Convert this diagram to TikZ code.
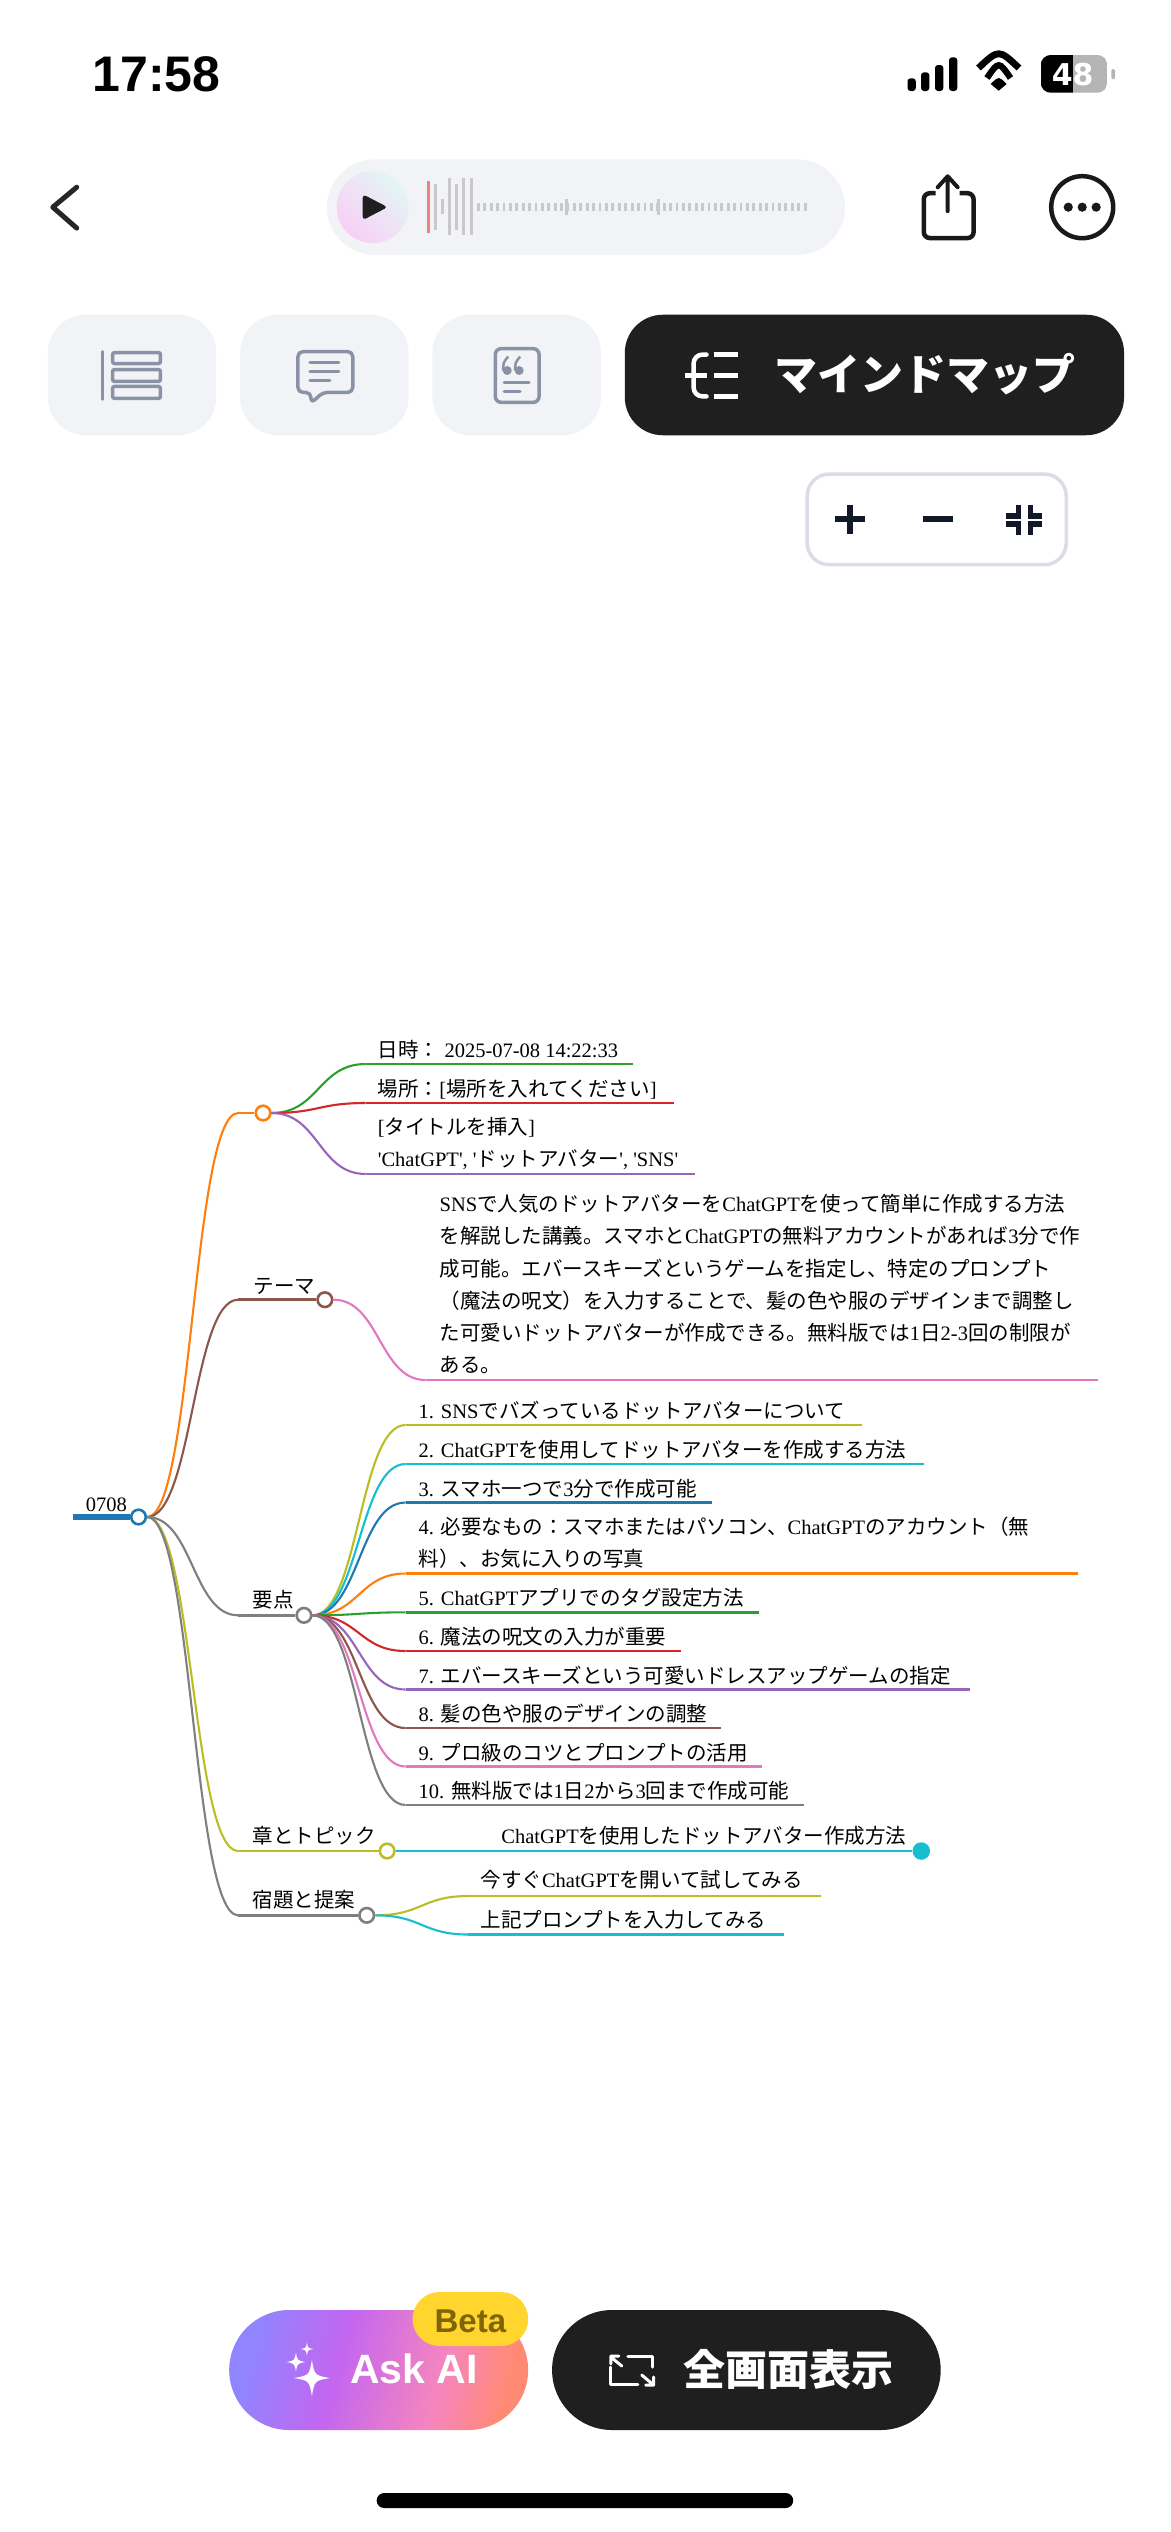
\documentclass[tikz,border=0pt]{standalone}
\usepackage{fontspec}
\setmainfont{Liberation Serif}
\newfontfamily\cjk{Noto Sans CJK JP}
\newfontfamily\uisans{Liberation Sans}
\newfontfamily\battfont{DejaVu Sans}
\newfontfamily\plainserif{Liberation Serif}
\usetikzlibrary{calc}
\newcommand\J[1]{{\cjk #1}}
\definecolor{cOlive}{HTML}{BCBD22}
\definecolor{cTeal}{HTML}{17BECF}
\definecolor{cBlue}{HTML}{1F77B4}
\definecolor{cOrange}{HTML}{FF7F0E}
\definecolor{cGreen}{HTML}{2CA02C}
\definecolor{cRed}{HTML}{D62728}
\definecolor{cPurple}{HTML}{9467BD}
\definecolor{cBrown}{HTML}{8C564B}
\definecolor{cPink}{HTML}{E377C2}
\definecolor{cGray}{HTML}{7F7F7F}
\definecolor{pillbg}{HTML}{F2F3F7}
\definecolor{iconc}{HTML}{8A93A6}
\definecolor{darkbtn}{HTML}{1F1F1F}
\definecolor{wavec}{HTML}{C9C9C9}
\definecolor{navy}{HTML}{111827}
\definecolor{zoomb}{HTML}{D8DDE6}
\definecolor{gA}{HTML}{9085FF}
\definecolor{gB}{HTML}{C366F0}
\definecolor{gC}{HTML}{F685BE}
\definecolor{gD}{HTML}{FF8A73}
\definecolor{pA}{HTML}{E3F6F4}
\definecolor{pB}{HTML}{DFE0FB}
\definecolor{pC}{HTML}{F9CFF7}
\definecolor{redbar}{HTML}{F08080}
\definecolor{betabg}{HTML}{FFD52E}
\definecolor{betatx}{HTML}{7F6508}
\definecolor{battgray}{HTML}{B5B5B5}
\pgfdeclarehorizontalshading{askai}{100bp}{color(0bp)=(gA);color(25bp)=(gA);color(42bp)=(gB);color(62bp)=(gC);color(75bp)=(gD);color(100bp)=(gD)}
\tikzset{
  mmtext/.style={anchor=west,inner sep=0pt,font=\plainserif\fontsize{20.5}{24}\selectfont,text height=16pt,text depth=5pt},
  mmdot/.style={circle,inner sep=0pt,minimum size=14.6pt,fill=white,line width=2.6pt},
  mmcurve/.style={line width=2.1pt},
  mmbar/.style={line width=2.4pt},
  uitxt/.style={inner sep=0pt},
  iconline/.style={draw=iconc,line width=3.5pt,line cap=round,line join=round},
  fs/.style={draw=white,line width=3pt,line cap=round,line join=round},
  spark/.style={fill=white},
}
\newcommand\mmleaf[6]{%
  \coordinate (#2s) at (#3,#4);
  \coordinate (#2e) at (#5,#4);
  \draw[mmcurve,#6] let \p1=(#1.east),\p2=(#2s),\n1={(\x1+\x2)/2} in (\p1) .. controls (\n1,\y1) and (\n1,\y2) .. (\p2);
  \draw[mmbar,#6] (#2s) -- (#2e);
}
\newcommand\mmmain[3]{%
  \coordinate (#2s) at (239,0 |- #2);
  \draw[mmcurve,#3] let \p1=(#1.east),\p2=(#2s),\n1={(\x1+\x2)/2} in (\p1) .. controls (\n1,\y1) and (\n1,\y2) .. (\p2);
  \draw[mmbar,line width=2.8pt,#3] (#2s) -- (#2.west);
}
\newcommand\sparkshape[3]{\fill[spark,shift={(#1,#2)},scale=#3] (0,-1) .. controls (.15,-.15) .. (1,0) .. controls (.15,.15) .. (0,1) .. controls (-.15,.15) .. (-1,0) .. controls (-.15,-.15) .. cycle;}
\begin{document}
\begin{tikzpicture}[x=0.9965pt,y=-1pt]
\fill[white] (0,0) rectangle (1174.11,2532);
\useasboundingbox (0,0) rectangle (1174.11,2532);

% status bar
\node[uitxt,anchor=center,font=\uisans\bfseries\fontsize{50}{50}\selectfont] (time) at (157,74) {17:58};
\begin{scope}[x=1pt]
\foreach \x/\t in {907.5/78.3,921/72.3,935/65,949/57.3}{\fill[black,rounded corners=3pt] (\x,\t) rectangle (\x+8.3,91);}
\draw[black,line width=6.8pt] (978.5,68) .. controls (998.7,49) .. (1019,68);
\draw[black,line width=6.3pt] (987,78) .. controls (998.7,61) .. (1010.5,78);
\fill[black] (998.7,90.7) -- (990.7,84) .. controls (998.7,76) .. (1006.7,84) -- cycle;
\begin{scope}
\clip[rounded corners=10pt] (1040.7,55) rectangle (1107.3,92.7);
\fill[black] (1040.7,55) rectangle (1072.7,92.7);
\fill[battgray] (1072.7,55) rectangle (1107.3,92.7);
\end{scope}
\fill[battgray,rounded corners=2pt] (1111.3,69) rectangle (1115,79.3);
\node[uitxt,text=white,font=\battfont\bfseries\fontsize{30}{30}\selectfont] (batt) at (1072.7,74.2) {48};
\end{scope}

\begin{scope}[y=-0.996pt]
% top bar
\draw[black!85,line width=5pt,line cap=round,line join=round] (77,188) -- (53,208) -- (77,229);
\fill[pillbg,rounded corners=48pt] (328,160) rectangle (848,256);
\shade[left color=pA,middle color=pB,right color=pC,shading angle=-45] (374,208) circle [radius=36pt];
\fill[darkbtn,rounded corners=3.5pt] (364,195) -- (389,208) -- (364,221) -- cycle;
\fill[redbar] (428.5,182) rectangle (431.5,234);
\foreach \x/\a/\b in {437/185/231,444/200/215,451/179/236,458/185/231,465/179/236,473/179/236}{\draw[wavec,line width=3pt] (\x,\a) -- (\x,\b);}
\foreach \i in {0,...,51}{\draw[wavec,line width=2.8pt] (480+\i*6.43,204) -- (480+\i*6.43,212);}
\draw[wavec,line width=3pt] (568,200) -- (568,216);
\draw[wavec,line width=3pt] (661,200) -- (661,216);
\draw[black!90,line width=4.5pt,rounded corners=6pt,line join=round] (939,194) -- (927,194) -- (927,239) -- (977,239) -- (977,194) -- (963,194);
\draw[black!90,line width=4pt,line cap=round,line join=round] (951,212) -- (951,178) (941,188) -- (951,177) -- (961,188);
\draw[black!90,line width=4.5pt] (1086,208) circle [radius=31pt];
\foreach \x in {1072,1086,1100}{\fill[black!90] (\x,208) circle [radius=4.6pt];}

% tabs
\fill[pillbg,rounded corners=38pt] (48,316) rectangle (217,437);
\fill[pillbg,rounded corners=38pt] (241,316) rectangle (410,437);
\fill[pillbg,rounded corners=38pt] (434,316) rectangle (603,437);
\fill[darkbtn,rounded corners=38pt] (627,316) rectangle (1128,437);
% tab 1 icon
\draw[iconline,line width=3pt] (103,353) -- (103,401);
\foreach \a/\b in {354/365,371/383,388/400}{\draw[iconc,line width=3.5pt,rounded corners=2pt] (113,\a) rectangle (161,\b);}
% tab 2 icon
\draw[iconline,rounded corners=5pt] (299,353) -- (354,353) -- (354,394) -- (324,394) -- (312,405) -- (312,394) -- (299,394) -- cycle;
\draw[iconline,line width=3pt] (311,364) -- (340,364) (311,373) -- (340,373) (311,382) -- (331,382);
% tab 3 icon
\draw[iconline,rounded corners=6pt] (497,350) rectangle (541,404);
\fill[iconc] (509,372) circle [radius=4.5pt] (521,372) circle [radius=4.5pt];
\draw[iconc,line width=2.5pt] (505,372) .. controls (505,364) .. (510,358) (517,372) .. controls (517,364) .. (522,358);
\draw[iconline,line width=3pt] (506,384) -- (531,384) (506,393) -- (522,393);
% tab 4 icon
\draw[white,line width=4.5pt,line cap=round,rounded corners=9pt] (709,356) -- (696,356) -- (696,398) -- (709,398);
\draw[white,line width=4.5pt] (716,356) -- (741,356) (716,377) -- (741,377) (716,398) -- (741,398) (687,377) -- (709,377);
\node[uitxt,text=white,font={\cjk\bfseries\fontsize{43}{44}\selectfont}] (tabtext) at (928,376) {マインドマップ};

% zoom control
\draw[zoomb,line width=3.5pt,fill=white,rounded corners=22pt] (810,476) rectangle (1070,567);
\draw[navy,line width=6pt] (838,521) -- (868,521) (853,507) -- (853,536);
\draw[navy,line width=6pt] (926,521) -- (956,521);
\draw[navy,line width=5.5pt] (1022,507) -- (1022,518) -- (1010,518) (1034,507) -- (1034,518) -- (1046,518) (1022,537) -- (1022,526) -- (1010,526) (1034,537) -- (1034,526) -- (1046,526);
\end{scope}

% mind map
\node[mmdot,draw=cBlue] (root) at (139,1517) {};
\draw[cBlue,line width=5.3pt] (73.5,1517) -- (root.west);
\node[mmtext] (rootlabel) at (86,1505.5) {0708};

\node[mmdot,draw=cOrange] (info) at (264,1113) {};
\node[mmdot,draw=cBrown] (theme) at (326,1299.7) {};
\node[mmdot,draw=cGray] (points) at (305,1615.3) {};
\node[mmdot,draw=cOlive] (chapter) at (388.5,1851) {};
\node[mmdot,draw=cGray] (homework) at (368,1915.3) {};
\mmmain{root}{info}{cOrange}
\mmmain{root}{theme}{cBrown}
\mmmain{root}{points}{cGray}
\mmmain{root}{chapter}{cOlive}
\mmmain{root}{homework}{cGray}

\node[mmtext] at (254.5,1287.5) {\J{テーマ}};
\node[mmtext] at (253.5,1602.4) {\J{要点}};
\node[mmtext] at (253.5,1838) {\J{章とトピック}};
\node[mmtext] at (253.5,1902) {\J{宿題と提案}};

\mmleaf{info}{a}{367}{1064}{635}{cGreen}
\mmleaf{info}{b}{367}{1103}{676}{cRed}
\mmleaf{info}{c}{367}{1174}{697}{cPurple}
\node[mmtext] at (379,1052.4) {\J{日時：} 2025-07-08 14:22:33};
\node[mmtext] at (379,1090.7) {\J{場所：}[\J{場所を入れてください}]};
\node[mmtext] at (379,1129) {[\J{タイトルを挿入}]};
\node[mmtext] at (379,1161.4) {'ChatGPT', '\J{ドットアバター}', 'SNS'};

\mmleaf{theme}{d}{427}{1380}{1101.5}{cPink}
\node[mmtext] at (441,1206.4) {SNS\J{で人気のドットアバターを}ChatGPT\J{を使って簡単に作成する方法}};
\node[mmtext] at (441,1238.4) {\J{を解説した講義。スマホと}ChatGPT\J{の無料アカウントがあれば}3\J{分で作}};
\node[mmtext] at (441,1270.5) {\J{成可能。エバースキーズというゲームを指定し、特定のプロンプト}};
\node[mmtext] at (441,1302.5) {\J{（魔法の呪文）を入力することで、髪の色や服のデザインまで調整し}};
\node[mmtext] at (441,1335) {\J{た可愛いドットアバターが作成できる。無料版では}1\J{日}2-3\J{回の制限が}};
\node[mmtext] at (441,1367) {\J{ある。}};

\mmleaf{points}{p1}{407}{1425}{865}{cOlive}
\mmleaf{points}{p2}{407}{1464}{927}{cTeal}
\mmleaf{points}{p3}{407}{1502.5}{714}{cBlue}
\mmleaf{points}{p4}{407}{1573.5}{1082}{cOrange}
\mmleaf{points}{p5}{407}{1612.3}{762}{cGreen}
\mmleaf{points}{p6}{407}{1651}{683}{cRed}
\mmleaf{points}{p7}{407}{1689.5}{973}{cPurple}
\mmleaf{points}{p8}{407}{1728}{723.5}{cBrown}
\mmleaf{points}{p9}{407}{1766.5}{765}{cPink}
\mmleaf{points}{p10}{407}{1805}{807}{cGray}
\node[mmtext] at (420,1413) {1. SNS\J{でバズっているドットアバターについて}};
\node[mmtext] at (420,1452) {2. ChatGPT\J{を使用してドットアバターを作成する方法}};
\node[mmtext] at (420,1490.5) {3. \J{スマホ一つで}3\J{分で作成可能}};
\node[mmtext] at (420,1529) {4. \J{必要なもの：スマホまたはパソコン、}ChatGPT\J{のアカウント（無}};
\node[mmtext] at (420,1561) {\J{料）、お気に入りの写真}};
\node[mmtext] at (420,1600.3) {5. ChatGPT\J{アプリでのタグ設定方法}};
\node[mmtext] at (420,1639) {6. \J{魔法の呪文の入力が重要}};
\node[mmtext] at (420,1677.5) {7. \J{エバースキーズという可愛いドレスアップゲームの指定}};
\node[mmtext] at (420,1716) {8. \J{髪の色や服のデザインの調整}};
\node[mmtext] at (420,1754.5) {9. \J{プロ級のコツとプロンプトの活用}};
\node[mmtext] at (420,1793) {10. \J{無料版では}1\J{日}2\J{から}3\J{回まで作成可能}};

\node[circle,inner sep=0pt,minimum size=17.5pt,fill=cTeal] (topic) at (924.5,1851) {};
\draw[mmbar,cTeal] (chapter.east) -- (topic.west);
\node[mmtext] at (503,1838) {ChatGPT\J{を使用したドットアバター作成方法}};

\mmleaf{homework}{h1}{470}{1896}{824}{cOlive}
\mmleaf{homework}{h2}{470}{1934.5}{787}{cTeal}
\node[mmtext] at (482,1882.4) {\J{今すぐ}ChatGPT\J{を開いて試してみる}};
\node[mmtext] at (482,1922.4) {\J{上記プロンプトを入力してみる}};

% bottom buttons
\shade[shading=askai,shading angle=-15,rounded corners=60pt] (230,2310) rectangle (530,2430);
\fill[betabg,rounded corners=27pt] (414,2292) rectangle (530,2346);
\node[uitxt,text=betatx,font=\uisans\bfseries\fontsize{33}{33}\selectfont] (beta) at (472,2321) {Beta};
\sparkshape{313}{2378}{18}
\sparkshape{297}{2362}{9.5}
\sparkshape{308}{2349}{6.5}
\node[uitxt,text=white,font=\uisans\bfseries\fontsize{41}{41}\selectfont] (askai) at (415.5,2369) {Ask AI};
\fill[darkbtn,rounded corners=60pt] (554,2310) rectangle (944,2430);
\draw[fs] (630,2356) -- (655,2356) -- (655,2367) (613,2367) -- (613,2384) -- (640,2384);
\draw[fs] (624,2366) -- (613,2357) (613,2364) -- (613,2356) -- (621,2356);
\draw[fs] (644,2375) -- (656,2385) (656,2377) -- (656,2385) -- (648,2385);
\node[uitxt,text=white,font={\cjk\bfseries\fontsize{42}{42}\selectfont}] (full) at (791.5,2369) {全画面表示};
\fill[black,rounded corners=7.5pt] (378,2493) rectangle (796,2508);
\end{tikzpicture}
\end{document}
